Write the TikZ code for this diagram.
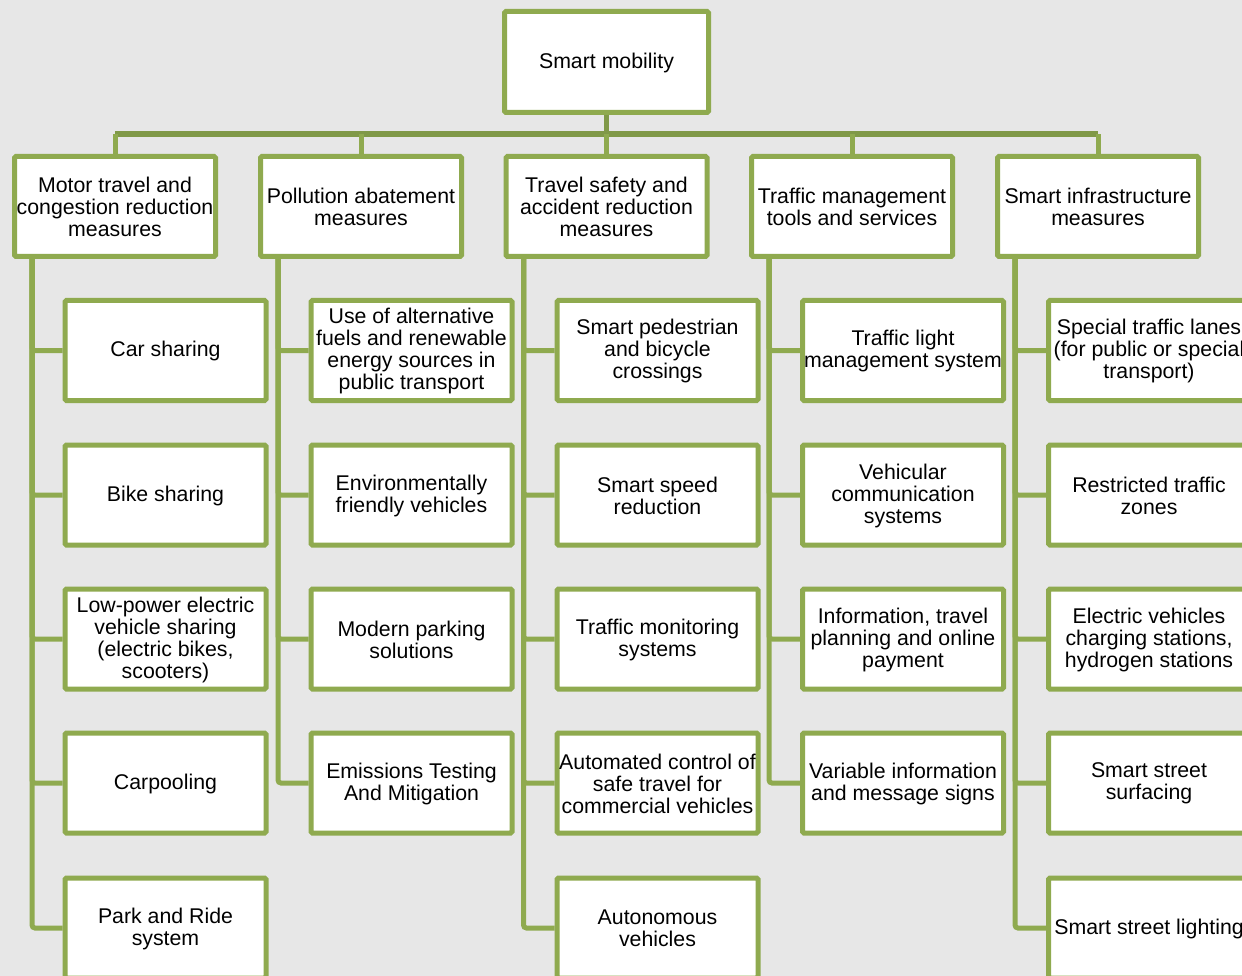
\documentclass[tikz,border=0pt]{standalone}
\usepackage{fontspec}
\setmainfont{Liberation Sans}
\definecolor{bg}{RGB}{231,231,231}
\definecolor{grn}{RGB}{143,170,79}
\definecolor{busc}{RGB}{128,153,72}
\begin{document}
\begin{tikzpicture}[x=1pt,y=-1pt,
  txt/.style={align=center, inner sep=0pt, yshift=-0.5pt,
    font=\fontsize{21.3}{22}\selectfont},
  box/.style={draw=grn, fill=white, line width=5pt, rounded corners=1.5pt,
    minimum width=201pt, minimum height=100pt, inner sep=0pt,
    label={[txt]center:{#1}}},
  topbox/.style={box={#1}, minimum width=204pt, minimum height=101pt},
  link/.style={draw=grn, line width=5pt, rounded corners=3pt},
  buslink/.style={draw=busc, line width=5.5pt}]
\fill[bg] (0,0) rectangle (1242,976);
\useasboundingbox (0,0) rectangle (1242,976);
\clip (0,0) rectangle (1242,976);

\coordinate (bus) at (606.5,134);
\coordinate (busL) at (115,134);
\coordinate (busR) at (1098,134);

\node[topbox={Smart mobility}] (top) at (606.5,62) {};

\node[box={Motor travel and\\congestion reduction\\measures}] (l1) at (115,206.5) {};
\node[box={Pollution abatement\\measures}] (l2) at (361,206.5) {};
\node[box={Travel safety and\\accident reduction\\measures}] (l3) at (606.5,206.5) {};
\node[box={Traffic management\\tools and services}] (l4) at (852,206.5) {};
\node[box={Smart infrastructure\\measures}] (l5) at (1098,206.5) {};

\draw[buslink] (top.south) -- (bus);
\draw[buslink] (busL) -- (busR);
\foreach \n in {l1,l2,l3,l4,l5}{
  \draw[link] (\n.north) -- (\n.north |- bus);
}

% column 1
\node[box={Car sharing}] (c1a) at (165.5,350.5) {};
\node[box={Bike sharing}] (c1b) at (165.5,495) {};
\node[box={Low-power electric\\vehicle sharing\\(electric bikes,\\scooters)}] (c1c) at (165.5,639) {};
\node[box={Carpooling}] (c1d) at (165.5,783) {};
\node[box={Park and Ride\\system}] (c1e) at (165.5,928) {};
% column 2
\node[box={Use of alternative\\fuels and renewable\\energy sources in\\public transport}] (c2a) at (411.5,350.5) {};
\node[box={Environmentally\\friendly vehicles}] (c2b) at (411.5,495) {};
\node[box={Modern parking\\solutions}] (c2c) at (411.5,639) {};
\node[box={Emissions Testing\\And Mitigation}] (c2d) at (411.5,783) {};
% column 3
\node[box={Smart pedestrian\\and bicycle\\crossings}] (c3a) at (657.5,350.5) {};
\node[box={Smart speed\\reduction}] (c3b) at (657.5,495) {};
\node[box={Traffic monitoring\\systems}] (c3c) at (657.5,639) {};
\node[box={Automated control of\\safe travel for\\commercial vehicles}] (c3d) at (657.5,783) {};
\node[box={Autonomous\\vehicles}] (c3e) at (657.5,928) {};
% column 4
\node[box={Traffic light\\management system}] (c4a) at (903,350.5) {};
\node[box={Vehicular\\communication\\systems}] (c4b) at (903,495) {};
\node[box={Information, travel\\planning and online\\payment}] (c4c) at (903,639) {};
\node[box={Variable information\\and message signs}] (c4d) at (903,783) {};
% column 5
\node[box={Special traffic lanes\\(for public or special\\transport)}] (c5a) at (1149,350.5) {};
\node[box={Restricted traffic\\zones}] (c5b) at (1149,495) {};
\node[box={Electric vehicles\\charging stations,\\hydrogen stations}] (c5c) at (1149,639) {};
\node[box={Smart street\\surfacing}] (c5d) at (1149,783) {};
\node[box={Smart street lighting}] (c5e) at (1149,928) {};

% spines
\foreach \p/\cs in {l1/{c1a,c1b,c1c,c1d,c1e}, l2/{c2a,c2b,c2c,c2d}, l3/{c3a,c3b,c3c,c3d,c3e}, l4/{c4a,c4b,c4c,c4d}, l5/{c5a,c5b,c5c,c5d,c5e}}{
  \foreach \c in \cs {
    \draw[link] ([xshift=20pt]\p.south west) |- (\c.west);
  }
}
\end{tikzpicture}
\end{document}
